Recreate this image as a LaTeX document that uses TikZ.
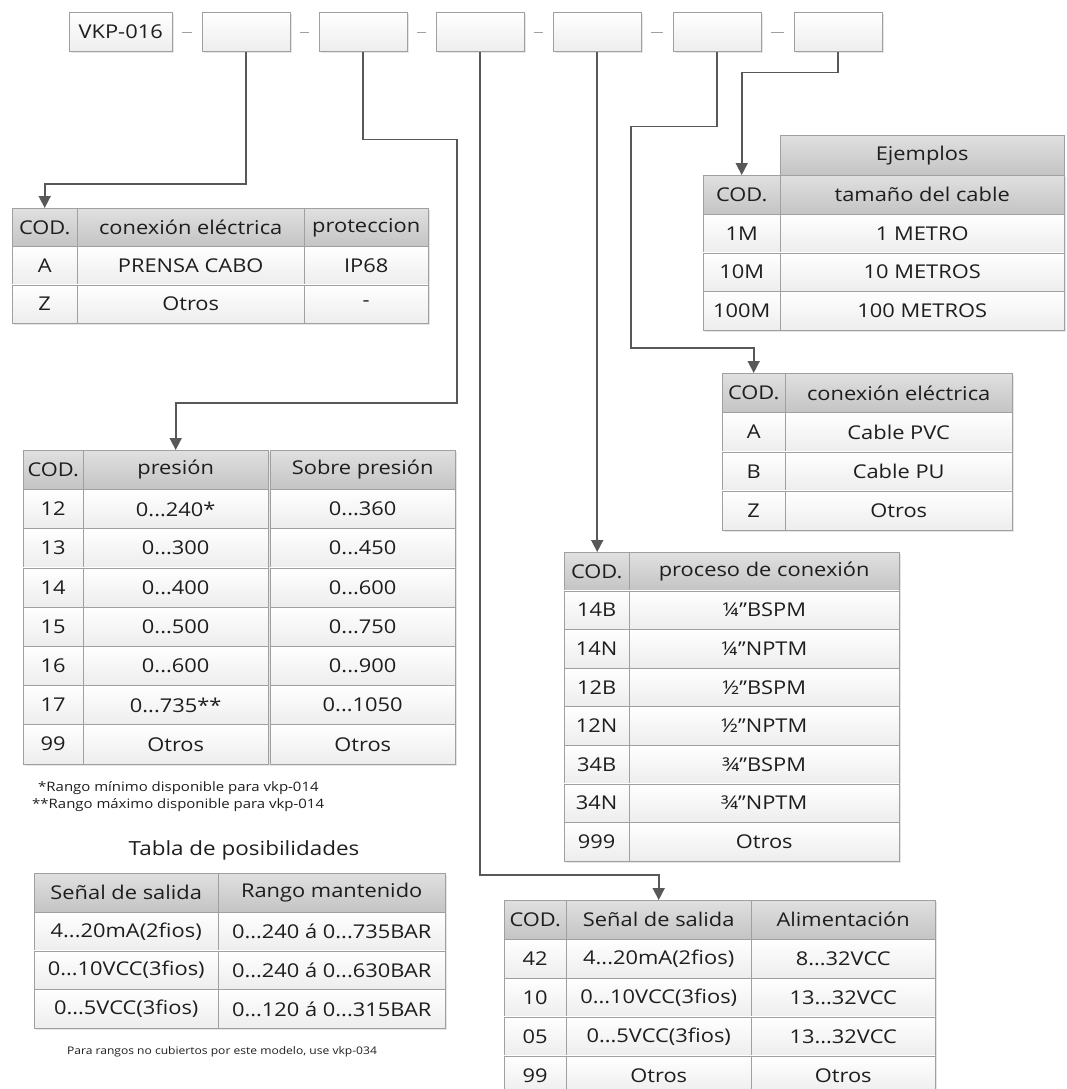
\documentclass[tikz,border=0pt]{standalone}
\usepackage{fontspec}
\setmainfont{Open Sans}[FakeStretch=1.15]
\usepackage{tikz}
\usetikzlibrary{arrows.meta,shadows}

\definecolor{linegray}{RGB}{88,88,88}
\definecolor{rulegray}{RGB}{160,160,160}
\definecolor{headtop}{RGB}{224,224,224}
\definecolor{headbot}{RGB}{196,196,196}
\definecolor{bodybot}{RGB}{237,237,237}
\definecolor{txt}{RGB}{30,30,30}

\newcommand{\tabfont}{\fontsize{19}{22}\selectfont}
\newcommand{\notefont}{\fontsize{13}{15}\selectfont}
\newcommand{\dts}{...}

\tikzset{
  codebox/.style={draw=rulegray, top color=white, bottom color=bodybot, minimum width=88pt,
    minimum height=39pt, inner sep=0pt, font=\tabfont, text=txt,
    drop shadow={opacity=0.2, shadow xshift=1.5pt, shadow yshift=-1.5pt}},
  cell/.style={draw=rulegray, top color=white, bottom color=bodybot, inner sep=0pt,
    anchor=north west, font=\tabfont, text=txt},
  head/.style={cell, top color=headtop, bottom color=headbot},
  tabshade/.style={fill=black!10},
  conn/.style={draw=linegray, line width=1.6pt, -{Triangle[width=12pt,length=12pt]}},
  sep/.style={draw=rulegray, line width=0.8pt}
}

\begin{document}
\begin{tikzpicture}[x=1pt, y=-1pt]
\useasboundingbox (0,0) rectangle (1066,1089);

% The code boxes
\node[codebox, minimum width=103pt, anchor=west] (vkp) at (69,32) {VKP-016};
\foreach \n/\x in {b1/202, b2/319, b3/436, b4/553, b5/673, b6/794}
  \node[codebox, anchor=west] (\n) at (\x,32) {};
\foreach \a/\b in {vkp/b1, b1/b2, b2/b3, b3/b4, b4/b5, b5/b6}
  \draw[sep] ([xshift=10pt]\a.east) -- ([xshift=-10pt]\b.west);

% Conexion electrica / proteccion
\fill[tabshade] (14,210) rectangle (430,325);
\node[head, minimum width=65pt, minimum height=38.3pt] (t1cod) at (12,208) {COD.};
\node[head, minimum width=227pt, minimum height=38.3pt] (t1con) at (77,208) {conexión eléctrica};
\node[head, minimum width=124pt, minimum height=38.3pt] (t1pro) at (304,208) {proteccion};
\foreach \c/\a/\b [count=\i] in {A/PRENSA CABO/IP68, Z/Otros/-} {
  \node[cell, minimum width=65pt, minimum height=38.3pt] (t1c\i) at (12,{208+38.3*\i}) {\c};
  \node[cell, minimum width=227pt, minimum height=38.3pt] (t1a\i) at (77,{208+38.3*\i}) {\a};
  \node[cell, minimum width=124pt, minimum height=38.3pt] (t1b\i) at (304,{208+38.3*\i}) {\b};
}

% Presion / sobre presion
\fill[tabshade] (25,452) rectangle (457,766);
\node[head, minimum width=60pt, minimum height=39.2pt] (t2cod) at (23,450) {COD.};
\node[head, minimum width=185pt, minimum height=39.2pt] (t2pres) at (83,450) {presión};
\node[head, minimum width=185pt, minimum height=39.2pt] (t2sob) at (270,450) {Sobre presión};
\foreach \c/\a/\b [count=\i] in {12/0\dts240*/0\dts360, 13/0\dts300/0\dts450, 14/0\dts400/0\dts600,
    15/0\dts500/0\dts750, 16/0\dts600/0\dts900, 17/0\dts735**/0\dts1050, 99/Otros/Otros} {
  \node[cell, minimum width=60pt, minimum height=39.2pt] (t2c\i) at (23,{450+39.2*\i}) {\c};
  \node[cell, minimum width=185pt, minimum height=39.2pt] (t2a\i) at (83,{450+39.2*\i}) {\a};
  \node[cell, minimum width=185pt, minimum height=39.2pt] (t2b\i) at (270,{450+39.2*\i}) {\b};
}
\node[font=\notefont, text=txt, anchor=west, inner sep=0pt] (note1) at (38,788) {*Rango mínimo disponible para vkp-014};
\node[font=\notefont, text=txt, anchor=west, inner sep=0pt] (note2) at (32,805) {**Rango máximo disponible para vkp-014};

% Tabla de posibilidades
\node[font=\fontsize{19.5}{22}\selectfont, text=txt] (ttitle) at (244,850) {Tabla de posibilidades};
\fill[tabshade] (36,875) rectangle (447,1030);
\node[head, minimum width=184pt, minimum height=38.8pt] (t3sen) at (34,873) {Señal de salida};
\node[head, minimum width=227pt, minimum height=38.8pt] (t3ran) at (218,873) {Rango mantenido};
\foreach \a/\b [count=\i] in {4\dts20mA(2fios)/0\dts240 á 0\dts735BAR, 0\dts10VCC(3fios)/0\dts240 á 0\dts630BAR,
    0\dts5VCC(3fios)/0\dts120 á 0\dts315BAR} {
  \node[cell, minimum width=184pt, minimum height=38.8pt] (t3a\i) at (34,{873+38.8*\i}) {\a};
  \node[cell, minimum width=227pt, minimum height=38.8pt] (t3b\i) at (218,{873+38.8*\i}) {\b};
}
\node[font=\fontsize{10.5}{12}\selectfont, text=txt] (rnote) at (222,1052) {Para rangos no cubiertos por este modelo, use vkp-034};

% Ejemplos / tamano del cable
\fill[tabshade] (705,177) rectangle (1066,332);
\node[head, minimum width=284pt, minimum height=40pt] (t4ej) at (780,135) {Ejemplos};
\node[head, minimum width=77pt, minimum height=38.8pt] (t4cod) at (703,175) {COD.};
\node[head, minimum width=284pt, minimum height=38.8pt] (t4tam) at (780,175) {tamaño del cable};
\foreach \c/\a [count=\i] in {1M/1 METRO, 10M/10 METROS, 100M/100 METROS} {
  \node[cell, minimum width=77pt, minimum height=38.8pt] (t4c\i) at (703,{175+38.8*\i}) {\c};
  \node[cell, minimum width=284pt, minimum height=38.8pt] (t4a\i) at (780,{175+38.8*\i}) {\a};
}

% Conexion electrica (cable)
\fill[tabshade] (724,375) rectangle (1014,532);
\node[head, minimum width=63pt, minimum height=39.25pt] (t5cod) at (722,373) {COD.};
\node[head, minimum width=227pt, minimum height=39.25pt] (t5con) at (785,373) {conexión eléctrica};
\foreach \c/\a [count=\i] in {A/Cable PVC, B/Cable PU, Z/Otros} {
  \node[cell, minimum width=63pt, minimum height=39.25pt] (t5c\i) at (722,{373+39.25*\i}) {\c};
  \node[cell, minimum width=227pt, minimum height=39.25pt] (t5a\i) at (785,{373+39.25*\i}) {\a};
}

% Proceso de conexion
\fill[tabshade] (566,554) rectangle (901,863);
\node[head, minimum width=65pt, minimum height=38.6pt] (t6cod) at (564,552) {COD.};
\node[head, minimum width=270pt, minimum height=38.6pt] (t6pro) at (629,552) {proceso de conexión};
\foreach \c/\a [count=\i] in {14B/¼”BSPM, 14N/¼”NPTM, 12B/½”BSPM, 12N/½”NPTM, 34B/¾”BSPM,
    34N/¾”NPTM, 999/Otros} {
  \node[cell, minimum width=65pt, minimum height=38.6pt] (t6c\i) at (564,{552+38.6*\i}) {\c};
  \node[cell, minimum width=270pt, minimum height=38.6pt] (t6a\i) at (629,{552+38.6*\i}) {\a};
}

% Senal de salida / alimentacion
\fill[tabshade] (506,902) rectangle (937,1089);
\node[head, minimum width=62pt, minimum height=38.9pt] (t7cod) at (504,900) {COD.};
\node[head, minimum width=185pt, minimum height=38.9pt] (t7sen) at (566,900) {Señal de salida};
\node[head, minimum width=184pt, minimum height=38.9pt] (t7ali) at (751,900) {Alimentación};
\foreach \c/\a/\b [count=\i] in {42/4\dts20mA(2fios)/8\dts32VCC, 10/0\dts10VCC(3fios)/13\dts32VCC,
    05/0\dts5VCC(3fios)/13\dts32VCC, 99/Otros/Otros} {
  \node[cell, minimum width=62pt, minimum height=38.9pt] (t7c\i) at (504,{900+38.9*\i}) {\c};
  \node[cell, minimum width=185pt, minimum height=38.9pt] (t7a\i) at (566,{900+38.9*\i}) {\a};
  \node[cell, minimum width=184pt, minimum height=38.9pt] (t7b\i) at (751,{900+38.9*\i}) {\b};
}

% The connectors
\draw[conn] (b1.south) -- ++(0,132) -| (t1cod.north);
\draw[conn] (b2.south) -- ++(0,88) -- ++(94,0) -- ++(0,263) -| (t2pres.north);
\draw[conn] (b3.south) -- ++(0,823) -| (t7sen.north);
\draw[conn] (b4.south) -- (b4.south |- t6cod.north);
\draw[conn] (b5.south) -- ++(0,75) -- ++(-86,0) -- ++(0,221) -| (t5cod.north);
\draw[conn] (b6.south) -- ++(0,21) -| (t4cod.north);
\end{tikzpicture}
\end{document}
